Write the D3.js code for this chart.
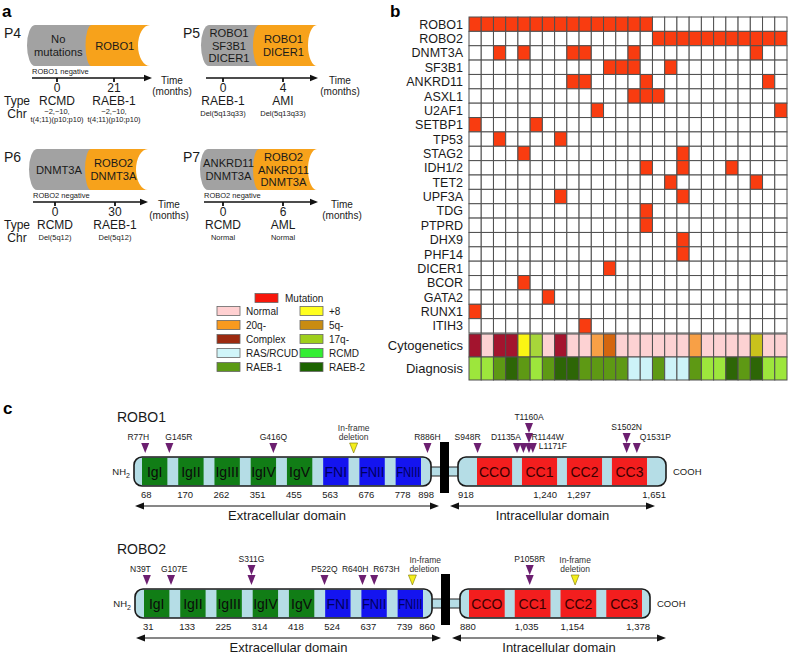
<!DOCTYPE html>
<html>
<head>
<meta charset="utf-8">
<script src="https://cdn.jsdelivr.net/npm/d3@7"></script>
<style>
html,body{margin:0;padding:0;background:#fff;}
svg{display:block;}
text{font-family:"Liberation Sans",Arial,Helvetica,sans-serif;fill:#1a1a1a;}
</style>
</head>
<body>
<svg id="fig" width="788" height="656"></svg>
<script>
// ================= DATA =================
// ---- panel a ----
const patientIds = ["P4","P5","P6","P7"];
const earlyClone = [["No","mutations"],["ROBO1","SF3B1","DICER1"],["DNMT3A"],["ANKRD11","DNMT3A"]];
const lateClone = [["ROBO1"],["ROBO1","DICER1"],["ROBO2","DNMT3A"],["ROBO2","ANKRD11","DNMT3A"]];
const timeMonths = [[0,21],[0,4],[0,30],[0,6]];
const diseaseType = [["RCMD","RAEB-1"],["RAEB-1","AMI"],["RCMD","RAEB-1"],["RCMD","AML"]];
const karyotype = [
  [["\u22122,\u221210,","t(4;11)(p10;p10)"],["\u22122,\u221210,","t(4;11)(p10;p10)"]],
  [["Del(5q13q33)"],["Del(5q13q33)"]],
  [["Del(5q12)"],["Del(5q12)"]],
  [["Normal"],["Normal"]]
];
const baselineNote = ["ROBO1 negative","","ROBO2 negative","ROBO2 negative"];

// ---- panel b ----
const genes = ["ROBO1","ROBO2","DNMT3A","SF3B1","ANKRD11","ASXL1","U2AF1","SETBP1","TP53","STAG2",
  "IDH1/2","TET2","UPF3A","TDG","PTPRD","DHX9","PHF14","DICER1","BCOR","GATA2","RUNX1","ITIH3"];
const mutatedSamples = [
  [0,1,2,3,4,5,6,7,8,9,10,11,12,13,14],
  [15,16,17,18,19,20,21,22,23,24,25],
  [2,4,8,9,13,23],
  [11,12,13,16],
  [8,9,14,24],
  [13,14,15],
  [10,25],
  [0,5],
  [2,7],
  [4,17],
  [14,17,21],
  [16,23],
  [7,17],
  [14],
  [14],
  [17],
  [17],
  [11],
  [4],
  [6],
  [0],
  [9]
];
const cytogenetics = ["Complex","Normal","Complex","Complex","+8","17q-","Normal","Complex","Normal","Normal",
  "20q-","5q-","Normal","Normal","Normal","Normal","Normal","Normal","20q-","Normal",
  "Normal","Normal","Normal","Other","Normal","Normal"];
const diagnosis = ["RCMD","RCMD","RAEB-1","RAEB-2","RAEB-1","RCMD","RAEB-1","RAEB-2","RAEB-2","RAEB-1",
  "RAEB-1","RAEB-1","RAEB-1","RAS/RCUD","RAS/RCUD","RAEB-1","RAS/RCUD","RAS/RCUD","RAEB-1","RCMD",
  "RCMD","RAEB-2","RAEB-1","RAEB-2","RCMD","RCMD"];
const cytoKeys = ["Normal","Complex","+8","17q-","20q-","5q-","Other"];
const cytoCellColors = ["#fdd2d3","#a3142e","#fbf514","#a7d63a","#f8a046","#d4660f","#c9c21c"];
const diagKeys = ["RCMD","RAEB-1","RAEB-2","RAS/RCUD"];
const diagCellColors = ["#9de63c","#5e9914","#2d6606","#cdf3f8"];
const legendLabels = ["Normal","20q-","Complex","RAS/RCUD","RAEB-1","+8","5q-","17q-","RCMD","RAEB-2"];
const legendColors = ["#ffd0d1","#f99a1e","#9c2a10","#d0f5f9","#5c9a14","#ffff1e","#c98c12","#9ecf1c","#33ee33","#1c6400"];

// ---- panel c ----
const robo1ExtDomains = ["IgI","IgII","IgIII","IgIV","IgV","FNI","FNII","FNIII"];
const robo1ExtStarts = [68,170,262,351,455,563,676,778];
const robo1ExtEnd = 898;
const robo1IntDomains = ["CCO","CC1","CC2","CC3"];
const robo1IntAA = [[945,1130],[1140,1240],[1297,1400],[1460,1560]];
const robo1IntTicks = [918,1240,1297,1651];
const robo1Mutations = [
  {label:"R77H",aa:77,n:1},{label:"G145R",aa:145,n:1},{label:"G416Q",aa:416,n:1},
  {label:"In-frame deletion",aa:658,n:1,del:true},{label:"R886H",aa:886,n:1},
  {label:"S948R",aa:948,n:1},{label:"D1135A",aa:1135,n:1},{label:"T1160A",aa:1160,n:3},
  {label:"R1144W",aa:1144,n:1},{label:"L1171F",aa:1171,n:1},{label:"S1502N",aa:1502,n:2},
  {label:"Q1531P",aa:1531,n:1}
];
const robo2ExtDomains = ["IgI","IgII","IgIII","IgIV","IgV","FNI","FNII","FNIII"];
const robo2ExtStarts = [31,133,225,314,418,524,637,739];
const robo2ExtEnd = 860;
const robo2IntDomains = ["CCO","CC1","CC2","CC3"];
const robo2IntAA = [[900,1020],[1035,1090],[1154,1230],[1280,1360]];
const robo2IntTicks = [880,1035,1154,1378];
const robo2Mutations = [
  {label:"N39T",aa:39,n:1},{label:"G107E",aa:107,n:1},{label:"S311G",aa:311,n:2},
  {label:"P522Q",aa:522,n:1},{label:"R640H",aa:640,n:1},{label:"R673H",aa:673,n:1},
  {label:"In-frame deletion",aa:791,n:1,del:true},{label:"P1058R",aa:1058,n:2},
  {label:"In-frame deletion",aa:1185,n:1,del:true}
];

// ================= DRAWING =================
const svg = d3.select("#fig");
function T(g,x,y,s,size,anchor){
  return g.append("text").attr("x",x).attr("y",y).attr("font-size",size)
    .attr("text-anchor",anchor||"start").text(s);
}
[["a",2,17],["b",390,17],["c",3,414]].forEach(d=>{
  T(svg,d[1],d[2],d[0],17,"start").attr("font-weight","bold").style("fill","#000");
});

// ---------- Panel a ----------
const aLayout = [
  {x0:27, xe:150, kR:12, ax0:32, ax1:152, t:[57,114], timeX:172, dy:0,   px:4},
  {x0:201,xe:317, kR:9,  ax0:206,ax1:318, t:[223,283],timeX:340, dy:0,   px:183},
  {x0:29, xe:148, kR:12, ax0:33, ax1:148, t:[55,115], timeX:169, dy:124, px:4},
  {x0:200,xe:317, kR:9,  ax0:204,ax1:318, t:[223,283],timeX:342, dy:124, px:183}
];
patientIds.forEach((pid,i)=>{
  const Ly = aLayout[i];
  const g = svg.append("g");
  const top = 25+Ly.dy, bot = 66+Ly.dy, h = bot-top, mid = (top+bot)/2;
  const tScale = d3.scalePoint().domain(timeMonths[i]).range(Ly.t);
  const xb = d3.mean(timeMonths[i], d=>tScale(d));
  const kL = 8, kB = 6;
  g.append("path")
    .attr("d",`M${Ly.x0+kL},${top}L${xb+kB+12},${top}L${xb+kB+12},${bot}L${Ly.x0+kL},${bot}A${kL},${h/2} 0 0 1 ${Ly.x0+kL},${top}Z`)
    .attr("fill","#a2a2a2");
  g.append("path")
    .attr("d",`M${xb+kB},${top}L${Ly.xe},${top}A${Ly.kR},${h/2} 0 0 0 ${Ly.xe},${bot}L${xb+kB},${bot}A${kB},${h/2} 0 0 1 ${xb+kB},${top}Z`)
    .attr("fill","#f7a21b");
  const lh = 12.6, fs = 11.2;
  const ex = (Ly.x0+xb)/2+2;
  earlyClone[i].forEach((s,j)=>{
    T(g,ex,mid+(j-(earlyClone[i].length-1)/2)*lh+4,s,fs,"middle");
  });
  const lx = (xb+Ly.xe-Ly.kR)/2+3;
  lateClone[i].forEach((s,j)=>{
    T(g,lx,mid+(j-(lateClone[i].length-1)/2)*lh+4,s,fs,"middle");
  });
  T(g,Ly.px,38+Ly.dy,pid,14,"start");
  const axisY = 78+Ly.dy;
  if(baselineNote[i]) T(g,Ly.ax0,axisY-4,baselineNote[i],7.5,"start");
  g.append("line").attr("x1",Ly.ax0).attr("x2",Ly.ax1-6).attr("y1",axisY).attr("y2",axisY)
    .attr("stroke","#111").attr("stroke-width",1.3);
  g.append("path").attr("d",`M${Ly.ax1},${axisY}L${Ly.ax1-8},${axisY-3.2}L${Ly.ax1-8},${axisY+3.2}Z`).attr("fill","#111");
  timeMonths[i].forEach((m,j)=>{
    const x = tScale(m);
    g.append("line").attr("x1",x).attr("x2",x).attr("y1",axisY).attr("y2",axisY+4)
      .attr("stroke","#111").attr("stroke-width",1.8);
    T(g,x,axisY+14,String(m),12,"middle");
    T(g,x,axisY+27,diseaseType[i][j],12,"middle");
    const k = karyotype[i][j];
    if(k.length===2){
      T(g,x,axisY+35.5,k[0],7.5,"middle");
      T(g,x,axisY+43.5,k[1],7.5,"middle");
    } else {
      T(g,x,axisY+38,k[0],7.5,"middle");
    }
  });
  T(g,Ly.timeX,axisY+6,"Time",10,"middle");
  T(g,Ly.timeX,axisY+17,"(months)",10,"middle");
  if(i%2===0){
    T(g,17,axisY+27,"Type",12,"middle");
    T(g,17,axisY+40,"Chr",12,"middle");
  }
});

// ---------- Panel b ----------
const cols = cytogenetics.map((d,i)=>i);
const xB = d3.scaleBand().domain(cols).range([469,787]);
const yB = d3.scaleBand().domain(genes).range([17,333]);
const yA = d3.scaleBand().domain(["Cytogenetics","Diagnosis"]).range([334,380]);
const gb = svg.append("g");
const cells = genes.flatMap((gname,gi)=>cols.map(c=>({g:gname,c:c,m:mutatedSamples[gi].includes(c)})));
gb.selectAll("rect.cell").data(cells).join("rect").attr("class","cell")
  .attr("x",d=>xB(d.c)).attr("y",d=>yB(d.g)).attr("width",xB.bandwidth()).attr("height",yB.bandwidth())
  .attr("fill",d=>d.m?"#f93c10":"#ffffff").attr("stroke","#4f4f4f").attr("stroke-width",1);
const cytoColor = d3.scaleOrdinal().domain(cytoKeys).range(cytoCellColors);
const diagColor = d3.scaleOrdinal().domain(diagKeys).range(diagCellColors);
gb.selectAll("rect.cyto").data(cytogenetics).join("rect").attr("class","cyto")
  .attr("x",(d,i)=>xB(i)).attr("y",yA("Cytogenetics")).attr("width",xB.bandwidth()).attr("height",yA.bandwidth())
  .attr("fill",d=>cytoColor(d)).attr("stroke","#4f4f4f").attr("stroke-width",1);
gb.selectAll("rect.diag").data(diagnosis).join("rect").attr("class","diag")
  .attr("x",(d,i)=>xB(i)).attr("y",yA("Diagnosis")).attr("width",xB.bandwidth()).attr("height",yA.bandwidth())
  .attr("fill",d=>diagColor(d)).attr("stroke","#4f4f4f").attr("stroke-width",1);
genes.forEach(gname=>{
  T(gb,463,yB(gname)+yB.bandwidth()/2,gname,12.5,"end").attr("dy","0.36em");
});
yA.domain().forEach(n=>{
  T(gb,463,yA(n)+yA.bandwidth()/2,n,13,"end").attr("dy","0.36em");
});

// legend
const gl = svg.append("g");
gl.append("rect").attr("x",255).attr("y",293.5).attr("width",23).attr("height",9)
  .attr("fill","#f8170b").attr("stroke","#666").attr("stroke-width",0.8);
T(gl,285,302,"Mutation",10,"start");
legendLabels.forEach((lab,i)=>{
  const col = Math.floor(i/5), row = i%5;
  const sx = col===0?217:300, cy = 311+row*14;
  gl.append("rect").attr("x",sx).attr("y",cy-4.5).attr("width",23).attr("height",9)
    .attr("fill",legendColors[i]).attr("stroke","#666").attr("stroke-width",0.8);
  T(gl,sx+29,cy+3.6,lab,10,"start");
});

// ---------- Panel c ----------
const LINK="#b5dde6", IG="#117d16", FN="#1414f0", CC="#f31e1e", PURPLE="#6c1f70", YEL="#f4ee1c";
const labelPlacement = {
  "R77H":["end",4],"G145R":["start",-4],"S948R":["end",3],"D1135A":["end",4],"R1144W":["start",8],
  "L1171F":["side",6],"Q1531P":["start",3],
  "N39T":["end",4],"G107E":["start",-10],"R640H":["end",6],"R673H":["start",-1],
  "In-frame deletion791":["start",-3]
};
function drawProtein(P){
  const g = svg.append("g");
  const L = P.L;
  const by0 = L+40, by1 = L+69, bm = (by0+by1)/2;
  const xe = d3.scaleBand().domain(P.extDomains).range(P.extRange).paddingInner(0.3).paddingOuter(0);
  const xi = d3.scaleBand().domain(P.intDomains).range(P.intRange).paddingInner(0.22).paddingOuter(0);
  const dom=[], rng=[];
  P.extStarts.forEach((s,i)=>{dom.push(s); rng.push(xe(P.extDomains[i]));});
  dom.push(P.extEnd); rng.push(P.extBody[1]);
  dom.push(P.intTicks[0]); rng.push(P.intBody[0]);
  P.intAA.forEach((r,i)=>{
    dom.push(r[0]); rng.push(xi(P.intDomains[i]));
    dom.push(r[1]); rng.push(xi(P.intDomains[i])+xi.bandwidth());
  });
  dom.push(P.intTicks[P.intTicks.length-1]); rng.push(P.intBody[1]);
  const aa = d3.scaleLinear().domain(dom).range(rng);

  T(g,P.labelX,L+5,P.name,14,"start");
  g.append("rect").attr("x",P.extBody[1]-2).attr("y",bm-4.5).attr("width",P.intBody[0]-P.extBody[1]+4).attr("height",9)
    .attr("fill",LINK).attr("stroke","#222").attr("stroke-width",1);
  [P.extBody,P.intBody].forEach(b=>{
    g.append("rect").attr("x",b[0]).attr("y",by0).attr("width",b[1]-b[0]).attr("height",by1-by0).attr("rx",8)
      .attr("fill",LINK);
  });
  const dGroup = g.append("g");
  P.extDomains.forEach(d=>{
    const isFN = d.startsWith("FN");
    dGroup.append("rect").attr("x",xe(d)).attr("y",by0+0.8).attr("width",xe.bandwidth()).attr("height",by1-by0-1.6)
      .attr("fill",isFN?FN:IG);
    const t = T(dGroup,xe(d)+xe.bandwidth()/2,bm+5,d,14,"middle").style("fill",isFN?"#00005e":"#0a0a0a");
    const w = t.node().getComputedTextLength();
    if(w>xe.bandwidth()-1) t.attr("textLength",xe.bandwidth()-1).attr("lengthAdjust","spacingAndGlyphs");
  });
  P.intDomains.forEach(d=>{
    dGroup.append("rect").attr("x",xi(d)).attr("y",by0+0.8).attr("width",xi.bandwidth()).attr("height",by1-by0-1.6)
      .attr("fill",CC);
    T(dGroup,xi(d)+xi.bandwidth()/2,bm+5,d,14,"middle").style("fill","#3a0000");
  });
  [P.extBody,P.intBody].forEach(b=>{
    g.append("rect").attr("x",b[0]).attr("y",by0).attr("width",b[1]-b[0]).attr("height",by1-by0).attr("rx",8)
      .attr("fill","none").attr("stroke","#1a1a1a").attr("stroke-width",1.6);
  });
  g.append("rect").attr("x",P.tmX).attr("y",L+25).attr("width",9).attr("height",51).attr("fill","#000");
  const nh = g.append("text").attr("x",P.extBody[0]-4).attr("y",bm+3.5).attr("font-size",9.5).attr("text-anchor","end");
  nh.append("tspan").text("NH");
  nh.append("tspan").text("2").attr("font-size",7).attr("dy",2.5);
  T(g,P.intBody[1]+7,bm+3.5,"COOH",9.5,"start");
  const fmt = d3.format(",");
  P.extStarts.forEach(s=>T(g,aa(s)-1,L+81,fmt(s),9.5,"start"));
  T(g,aa(P.extEnd)+3,L+81,fmt(P.extEnd),9.5,"end");
  P.intTicks.forEach((t,i)=>{
    let anchor="start";
    if(i===P.intTicks.length-1){anchor="end";}
    else if(i>0 && P.intAA.some(r=>r[1]===t)){anchor="end";}
    T(g,aa(t),L+81,fmt(t),9.5,anchor);
  });
  [P.extArrow,P.intArrow].forEach((a,i)=>{
    const y = L+89;
    g.append("line").attr("x1",a[0]+6).attr("x2",a[1]-6).attr("y1",y).attr("y2",y).attr("stroke","#111").attr("stroke-width",1.2);
    g.append("path").attr("d",`M${a[0]},${y}L${a[0]+9},${y-3.5}L${a[0]+9},${y+3.5}Z`).attr("fill","#111");
    g.append("path").attr("d",`M${a[1]},${y}L${a[1]-9},${y-3.5}L${a[1]-9},${y+3.5}Z`).attr("fill","#111");
    T(g,(a[0]+a[1])/2,L+103,i===0?"Extracellular domain":"Intracellular domain",13,"middle");
  });
  P.muts.forEach(m=>{
    const x = aa(m.aa);
    const tip = L+36;
    const col = m.del?YEL:PURPLE;
    for(let k=0;k<m.n;k++){
      const t = tip-10*k;
      g.append("path").attr("d",`M${x-4},${t-10}L${x+4},${t-10}L${x},${t}Z`)
        .attr("fill",col).attr("stroke",m.del?"#7a7400":"none").attr("stroke-width",0.6);
    }
    const topY = tip-10*m.n;
    const pl = labelPlacement[m.label+(m.del?m.aa:"")];
    if(m.del){
      const parts = m.label.split(" ");
      const anc = pl?pl[0]:"middle", dx = pl?pl[1]:0;
      T(g,x+dx,topY-12,parts[0],8.5,anc).style("fill","#333");
      T(g,x+dx,topY-3,parts[1],8.5,anc).style("fill","#333");
      return;
    }
    if(!pl){ T(g,x,topY-3,m.label,8.5,"middle"); }
    else if(pl[0]==="side"){ T(g,x+pl[1],tip-4,m.label,8.5,"start"); }
    else { T(g,x+pl[1],topY-3,m.label,8.5,pl[0]); }
  });
}
drawProtein({name:"ROBO1",L:417,labelX:117,extDomains:robo1ExtDomains,extStarts:robo1ExtStarts,extEnd:robo1ExtEnd,
  intDomains:robo1IntDomains,intAA:robo1IntAA,intTicks:robo1IntTicks,muts:robo1Mutations,
  extBody:[134,431],extRange:[142,421],tmX:440,intBody:[458,666],intRange:[477,647],
  extArrow:[135,439],intArrow:[450,655]});
drawProtein({name:"ROBO2",L:549,labelX:117,extDomains:robo2ExtDomains,extStarts:robo2ExtStarts,extEnd:robo2ExtEnd,
  intDomains:robo2IntDomains,intAA:robo2IntAA,intTicks:robo2IntTicks,muts:robo2Mutations,
  extBody:[135,432],extRange:[144,423],tmX:441,intBody:[460,650],intRange:[469,642],
  extArrow:[136,441],intArrow:[452,666]});
</script>
</body>
</html>
